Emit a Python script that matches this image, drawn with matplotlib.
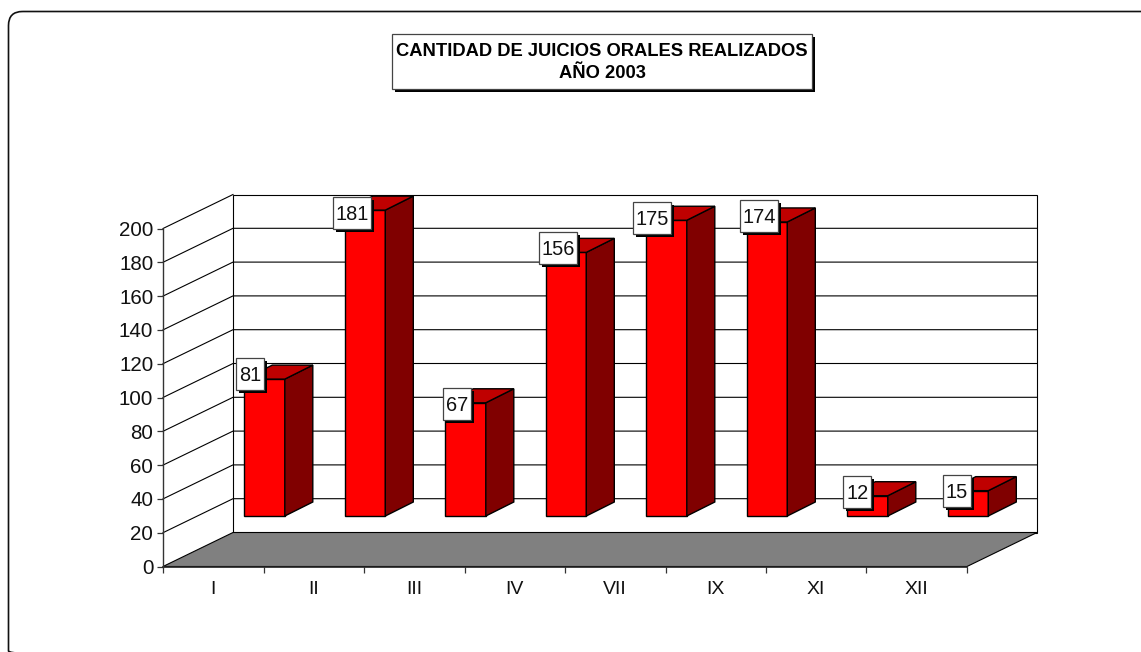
import matplotlib
matplotlib.use("Agg")
import matplotlib.pyplot as plt
from matplotlib.patches import Polygon, Rectangle, FancyBboxPatch

plt.rcParams['font.family'] = ['Liberation Sans', 'DejaVu Sans']

categories = ['I', 'II', 'III', 'IV', 'VII', 'IX', 'XI', 'XII']
values = [81, 181, 67, 156, 175, 174, 12, 15]
y_ticks = [0, 20, 40, 60, 80, 100, 120, 140, 160, 180, 200]
title_lines = ['CANTIDAD DE JUICIOS ORALES REALIZADOS', 'AÑO 2003']

W, H = 1141, 652
PX, PY0, PXW, PYH = 163, 566.5, 804, 338
fig = plt.figure(figsize=(W / 100, H / 100), dpi=100, facecolor='white')
ax = fig.add_axes([PX / W, 1 - PY0 / H, PXW / W, PYH / H])
ax.set_xlim(-0.5, len(categories) - 0.5)
ax.set_ylim(0, 200)
ax.patch.set_visible(False)
for s in ax.spines.values():
    s.set_visible(False)

ux = PXW / len(categories)   # px per category
uy = PYH / 200               # px per value unit
wall_dx, wall_dy = 70 / ux, 34 / uy
bar_w = 40.5 / ux
bar_dx, bar_dy = 28 / ux, 14 / uy
bar_shift, bar_base = 81.3 / ux, 50.5 / uy
x0, x1 = -0.5, len(categories) - 0.5
LC = '#000000'
LW = 0.8

# walls and floor
ax.add_patch(Polygon([(x0, 0), (x0 + wall_dx, wall_dy), (x1 + wall_dx, wall_dy), (x1, 0)],
                     fc='#808080', ec=LC, lw=LW, clip_on=False, zorder=2))
ymax = y_ticks[-1]
ax.add_patch(Polygon([(x0 + wall_dx, wall_dy), (x0 + wall_dx, ymax + wall_dy),
                      (x1 + wall_dx, ymax + wall_dy), (x1 + wall_dx, wall_dy)],
                     fc='white', ec=LC, lw=LW, clip_on=False, zorder=1))
for t in y_ticks[1:-1]:
    ax.plot([x0, x0 + wall_dx, x1 + wall_dx], [t, t + wall_dy, t + wall_dy],
            color=LC, lw=LW, clip_on=False, zorder=1.5)
ax.plot([x0, x0 + wall_dx], [ymax, ymax + wall_dy], color=LC, lw=LW, clip_on=False, zorder=1.5)
ax.plot([x0, x1], [0, 0], color='#222222', lw=1.2, clip_on=False, zorder=3)
ax.plot([x0, x0], [0, ymax], color='#333333', lw=1.0, clip_on=False, zorder=3)

# axes
ax.set_xticks([i - 0.5 for i in range(len(categories) + 1)])
ax.set_xticklabels([])
ax.set_yticks(y_ticks)
ax.set_yticklabels([str(t) for t in y_ticks], fontsize=14.8, color='#111111')
ax.tick_params(axis='x', length=4.5, width=0.9, color='#333333')
ax.tick_params(axis='y', length=4, width=0.9, color='#333333', pad=3)
for i, c in enumerate(categories):
    ax.annotate(c, xy=(i, 0), xycoords='data', xytext=(0, -22.5), textcoords='offset pixels',
                ha='center', va='center', fontsize=14.0, color='#111111', annotation_clip=False)

# bars
lefts = [i - 0.5 + bar_shift for i in range(len(values))]
ax.bar(lefts, values, width=bar_w, bottom=bar_base, align='edge', color='#FF0000',
       edgecolor='black', linewidth=1.0, zorder=5, clip_on=False)
for l, v in zip(lefts, values):
    r, b, t = l + bar_w, bar_base, bar_base + v
    ax.add_patch(Polygon([(r, b), (r + bar_dx, b + bar_dy), (r + bar_dx, t + bar_dy), (r, t)],
                         fc='#800000', ec='black', lw=1.0, clip_on=False, zorder=5))
    ax.add_patch(Polygon([(l, t), (l + bar_dx, t + bar_dy), (r + bar_dx, t + bar_dy), (r, t)],
                         fc='#BF0000', ec='black', lw=1.0, clip_on=False, zorder=5))

# overlay in figure pixels
ov = fig.add_axes([0, 0, 1, 1], zorder=10)
ov.set_xlim(0, W)
ov.set_ylim(H, 0)
ov.axis('off')

# outer rounded frame
ov.add_patch(FancyBboxPatch((8.5 + 14, 11.5 + 14), W + 30, 665 - 11.5 - 28,
                            boxstyle='round,pad=14,rounding_size=14',
                            fc='none', ec='#111111', lw=1.2, clip_on=True))

def box(x, y, w, h, sh=3):
    ov.add_patch(Rectangle((x + sh, y + sh), w, h, fc='black', ec='none', zorder=6))
    ov.add_patch(Rectangle((x, y), w, h, fc='white', ec='#444444', lw=0.9, zorder=7))

# title
box(392, 33.5, 419.5, 55.5)
ov.text(602, 51.5, title_lines[0], ha='center', va='center', fontsize=13.25, fontweight='bold',
        color='black', zorder=8)
ov.text(602, 73, title_lines[1], ha='center', va='center', fontsize=13.25, fontweight='bold',
        color='black', zorder=8)

# data labels: box centre offset from the bar's front top-left corner (px)
label_offsets = [(6, -5), (7, 3), (12, 1), (12, -4), (6, -2), (12, -6), (10, -4), (9, 0)]
inv = ov.transData.inverted()
for l, v, (ox, oy) in zip(lefts, values, label_offsets):
    px, py = inv.transform(ax.transData.transform((l, bar_base + v)))
    cx, cy = px + ox, py + oy
    w = 38 if v >= 100 else 28
    box(cx - w / 2, cy - 16, w, 32)
    ov.text(cx, cy + 1.5, str(v), ha='center', va='center', fontsize=14.4, color='#111111', zorder=8)

fig.savefig('out.png', dpi=100)
